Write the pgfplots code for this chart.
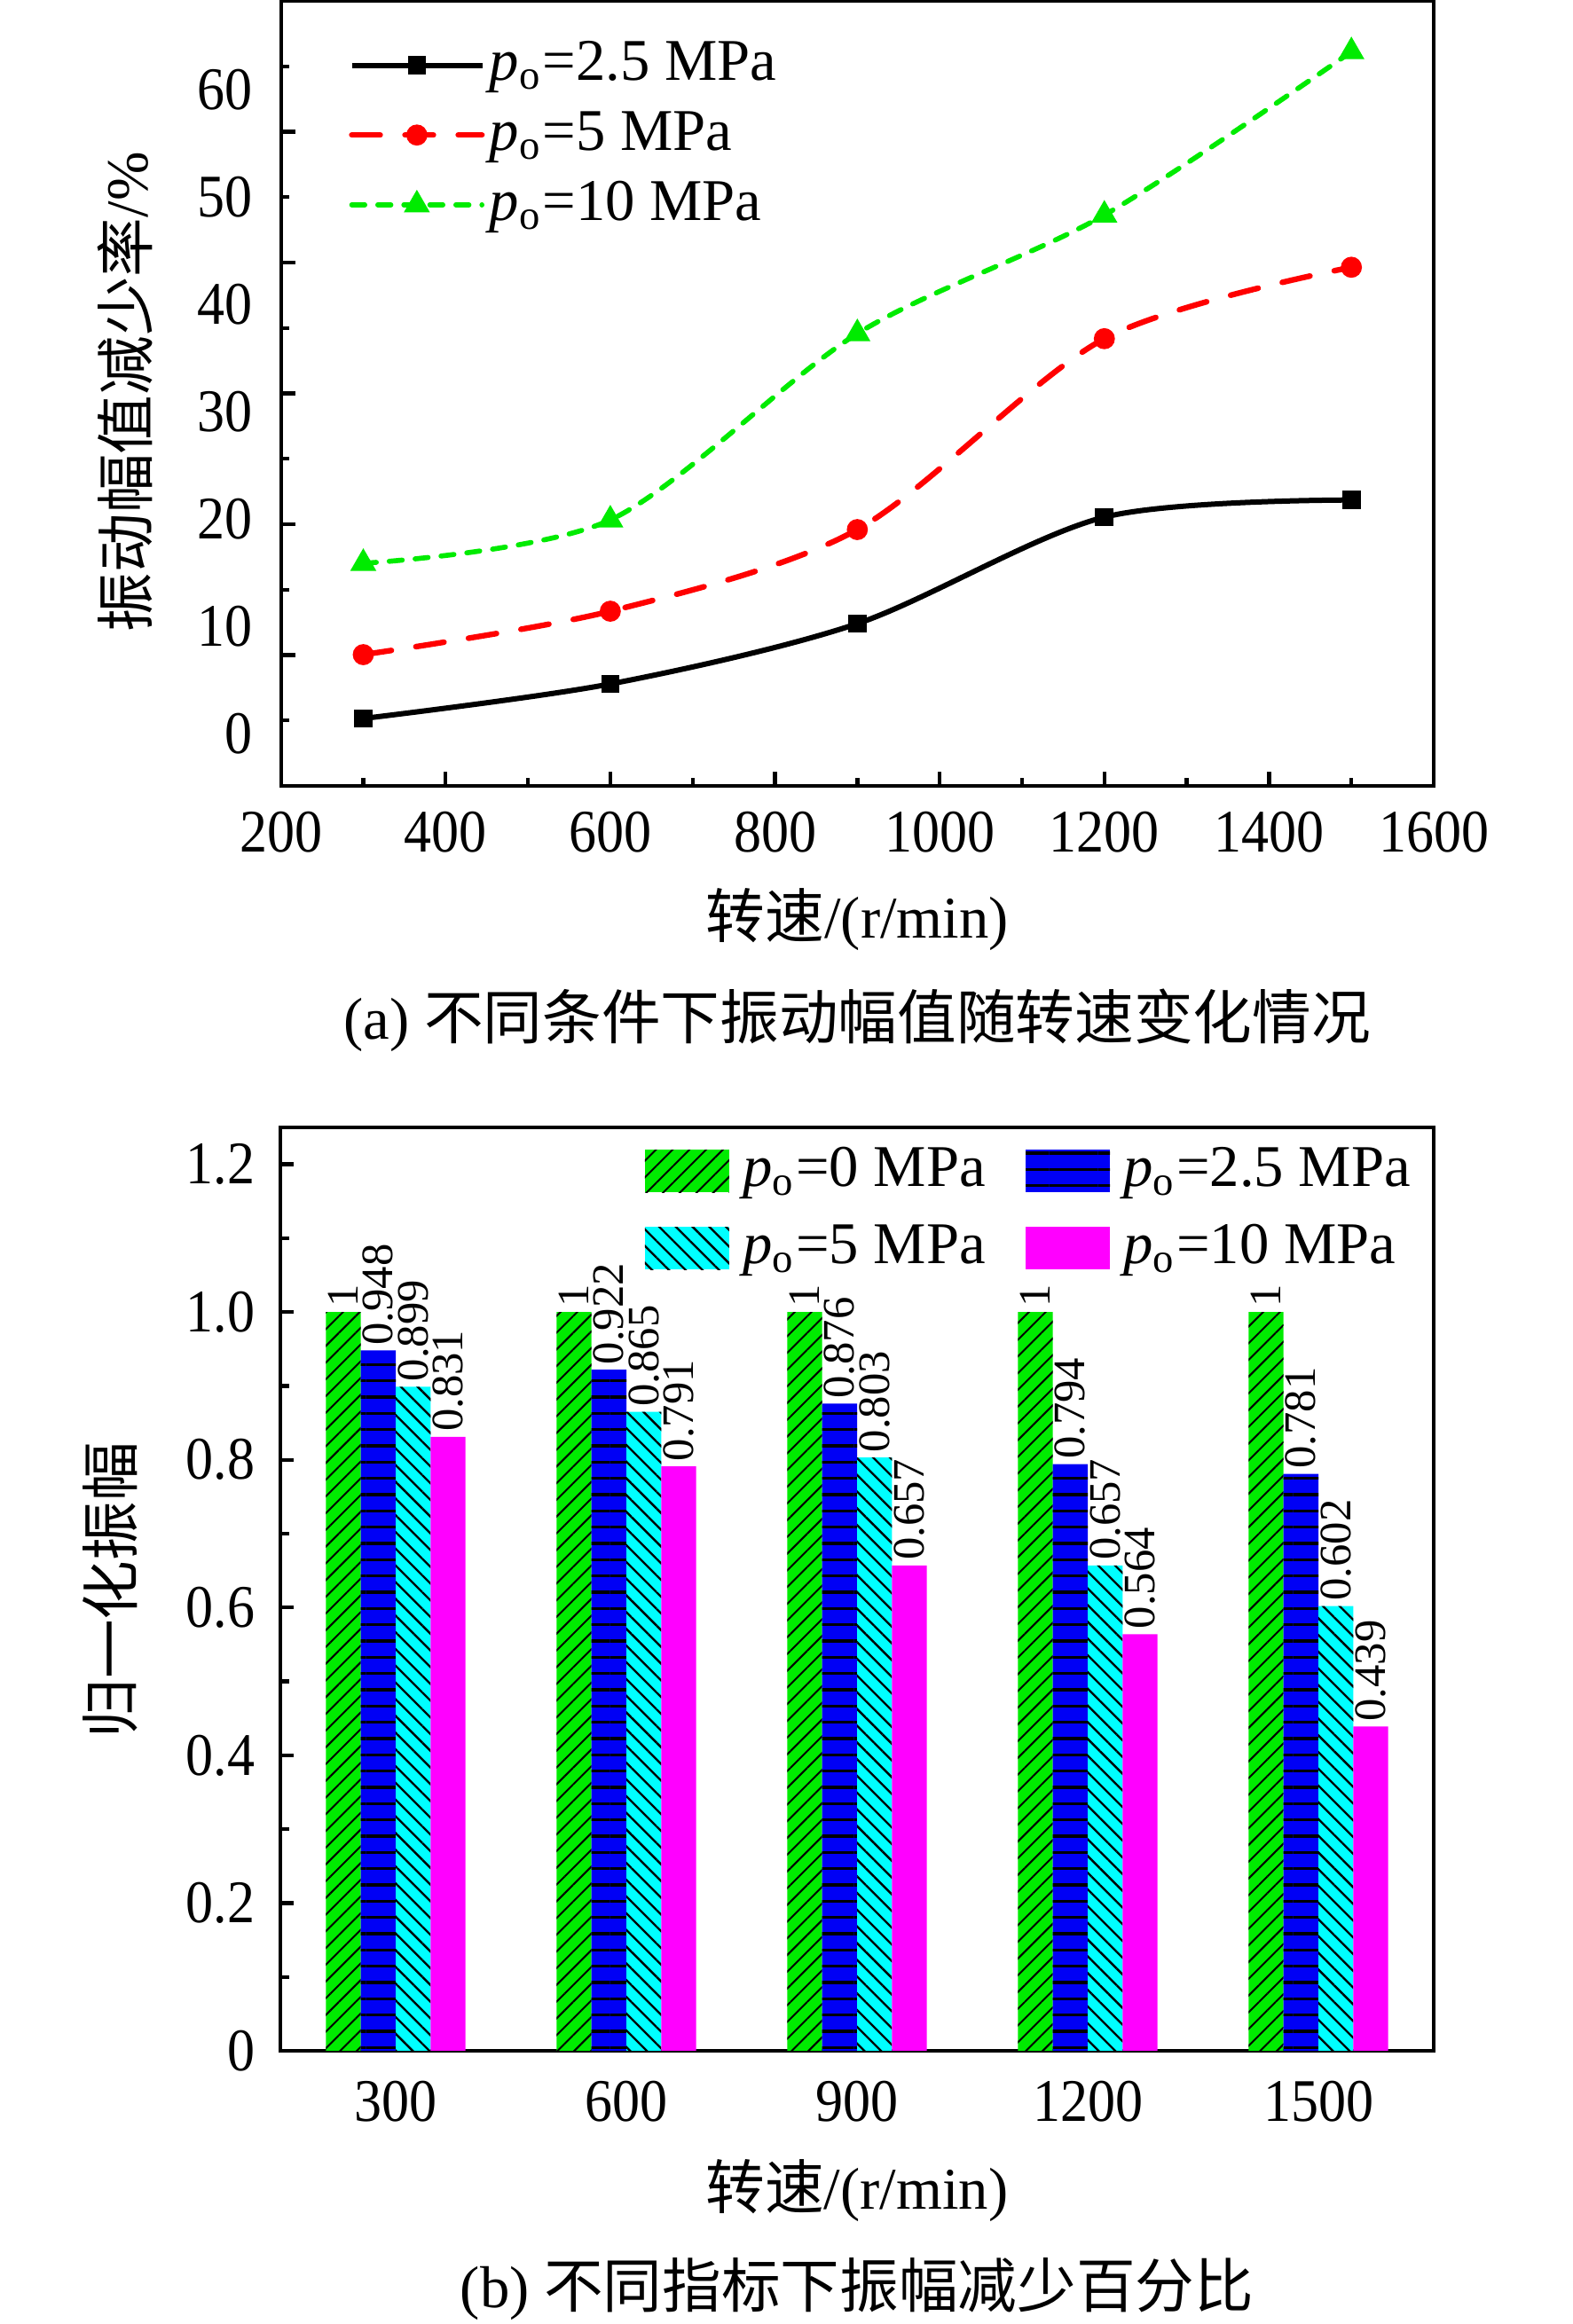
\documentclass[border=0pt]{standalone}
\usepackage{fontspec}
\setmainfont{Liberation Serif}
\newfontfamily\cjk{Noto Sans CJK SC}
\usepackage{graphicx}
\usepackage{pgfplots}
\pgfplotsset{compat=1.18}
\usetikzlibrary{patterns.meta}
\definecolor{lgreen}{RGB}{0,235,0}
\definecolor{bblue}{RGB}{0,0,245}
\definecolor{bcyan}{RGB}{0,255,255}
\definecolor{bmag}{RGB}{255,0,255}
\definecolor{lred}{RGB}{255,0,0}
\newcommand\po{\textit{p}\textsubscript{o}}
\newcommand\sx[1]{\scalebox{1}[1.1]{#1}}
\newcommand\tickfont{\fontsize{9.3}{11}\selectfont}
\newcommand\labfont{\fontsize{10}{12}\selectfont}
\newcommand\barfont{\fontsize{7.6}{9}\selectfont}
\pgfplotsset{barleg/.style={legend image code/.code={\path[##1] (0pt,-3.6pt) rectangle (14.25pt,3.6pt);}}}
\begin{document}
\begin{tikzpicture}
\useasboundingbox (0,0) rectangle (265.8pt,393pt);
% ---------------- (a) ----------------
\begin{axis}[
  at={(47.5pt,260.1pt)}, anchor=south west,
  scale only axis, width=194.9pt, height=132.75pt,
  xmin=200, xmax=1600, ymin=0, ymax=60,
  axis line style={line width=0.65pt},
  tick style={black, line width=0.65pt},
  tick align=inside, xtick pos=bottom, ytick pos=left,
  major tick length=2.4pt, minor tick length=1.4pt,
  xtick={200,400,600,800,1000,1200,1400,1600},
  xticklabels={\sx{200},\sx{400},\sx{600},\sx{800},\sx{1000},\sx{1200},\sx{1400},\sx{1600}},
  minor xtick={300,500,700,900,1100,1300,1500},
  ytick={10,20,30,40,50},
  yticklabels={\mbox{},\mbox{},\mbox{},\mbox{},\mbox{}},
  minor ytick={5,15,25,35,45,55},
  extra y ticks={4.0,12.2,20.4,28.6,36.8,45.0,53.2},
  extra y tick labels={\sx{0},\sx{10},\sx{20},\sx{30},\sx{40},\sx{50},\sx{60}},
  extra y tick style={major tick length=0pt},
  tick label style={font=\tickfont},
  xticklabel style={yshift=-0.8pt},
  yticklabel style={xshift=-1.3pt},
  every axis x label/.style={at={(axis description cs:0.5,-0.1706)}, anchor=center},
  every axis y label/.style={at={(axis description cs:-0.1355,0.502)}, anchor=center, rotate=90},
  label style={font=\labfont},
  xlabel={{\cjk 转速}/(r/min)},
  ylabel={{\cjk 振动幅值减少率}/\%},
  legend style={draw=none, fill=none, at={(axis description cs:0.058,0.956)}, anchor=north west,
    font=\labfont, row sep=2.1pt, inner sep=0pt, nodes={inner sep=0.8pt}},
  legend cell align=left,
  legend image code/.code={\draw[mark repeat=2,mark phase=2,#1] plot coordinates {(0pt,0pt)(11pt,0pt)(22pt,0pt)};},
]
\addplot[black, line width=0.9pt, smooth, mark=square*, mark size=1.1pt, mark options={solid}]
  coordinates {(300,5.15)(600,7.79)(900,12.40)(1200,20.54)(1500,21.85)};
\addlegendentry{\po=2.5 MPa}
\addplot[lred, line width=0.95pt, smooth, line cap=round, dash pattern=on 4.8pt off 4.2pt, mark=*, mark size=1.3pt, mark options={solid}]
  coordinates {(300,10.03)(600,13.35)(900,19.59)(1200,34.18)(1500,39.64)};
\addlegendentry{\po=5 MPa}
\addplot[lgreen, line width=0.85pt, smooth, line cap=round, dash pattern=on 2.2pt off 2.2pt, mark=triangle*, mark size=1.7pt, mark options={solid}]
  coordinates {(300,17.01)(600,20.33)(900,34.57)(1200,43.63)(1500,56.12)};
\addlegendentry{\po=10 MPa}
\end{axis}
\node[font=\labfont] at (144.9pt,220.5pt) {(a) {\cjk 不同条件下振动幅值随转速变化情况}};
% ---------------- (b) ----------------
\begin{axis}[
  at={(47.4pt,46.2pt)}, anchor=south west,
  scale only axis, width=195pt, height=156.15pt,
  xmin=-0.5, xmax=4.5, ymin=0, ymax=1.25,
  ybar=0pt, bar width=5.9pt,
  axis line style={line width=0.65pt},
  tick style={black, line width=0.65pt},
  tick align=inside, ytick pos=left,
  major tick length=2.25pt, minor tick length=1.45pt,
  xtick={0,1,2,3,4},
  xticklabels={\sx{300},\sx{600},\sx{900},\sx{1200},\sx{1500}},
  xtick style={draw=none},
  ytick={0,0.2,0.4,0.6,0.8,1.0,1.2},
  yticklabels={\sx{0},\sx{0.2},\sx{0.4},\sx{0.6},\sx{0.8},\sx{1.0},\sx{1.2}},
  minor ytick={0.1,0.3,0.5,0.7,0.9,1.1},
  tick label style={font=\tickfont},
  xticklabel style={yshift=-1.6pt},
  yticklabel style={xshift=-0.8pt},
  every axis x label/.style={at={(axis description cs:0.5,-0.1518)}, anchor=center},
  every axis y label/.style={at={(axis description cs:-0.1477,0.4986)}, anchor=center, rotate=90},
  label style={font=\labfont},
  xlabel={{\cjk 转速}/(r/min)},
  ylabel={\cjk 归一化振幅},
  /pgf/number format/precision=3,
  /pgf/number format/assume math mode=true,
  nodes near coords,
  every node near coord/.append style={rotate=90, anchor=west, inner sep=0.7pt, font=\barfont, black},
  legend columns=2,
  legend style={draw=none, fill=none, at={(axis description cs:0.315,0.985)}, anchor=north west,
    font=\labfont, row sep=3.3pt, inner sep=0pt, nodes={inner sep=0.8pt},
    /tikz/every odd column/.append style={column sep=1.5pt},
    /tikz/every even column/.append style={column sep=6pt}},
  legend cell align=left,
]
\addplot[barleg, fill=lgreen, draw=none, postaction={pattern={Lines[angle=45,distance=2pt,line width=0.3pt]}, pattern color=black}]
  coordinates {(0,1)(1,1)(2,1)(3,1)(4,1)};
\addlegendentry{\po=0 MPa}
\addplot[barleg, fill=bblue, draw=none, postaction={pattern={Lines[angle=0,distance=2.75pt,line width=0.5pt]}, pattern color=black}]
  coordinates {(0,0.948)(1,0.922)(2,0.876)(3,0.794)(4,0.781)};
\addlegendentry{\po=2.5 MPa}
\addplot[barleg, fill=bcyan, draw=none, postaction={pattern={Lines[angle=-45,distance=2pt,line width=0.35pt]}, pattern color=black}]
  coordinates {(0,0.899)(1,0.865)(2,0.803)(3,0.657)(4,0.602)};
\addlegendentry{\po=5 MPa}
\addplot[barleg, fill=bmag, draw=none]
  coordinates {(0,0.831)(1,0.791)(2,0.657)(3,0.564)(4,0.439)};
\addlegendentry{\po=10 MPa}
\end{axis}
\node[font=\labfont] at (144.9pt,5.9pt) {(b) {\cjk 不同指标下振幅减少百分比}};
\end{tikzpicture}
\end{document}
